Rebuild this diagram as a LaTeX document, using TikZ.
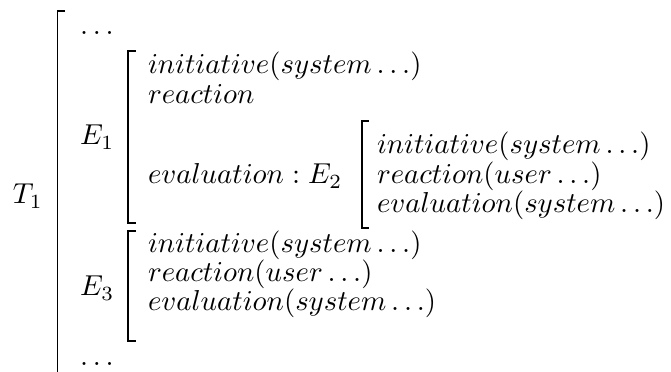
\documentclass[tikz,border=0pt]{standalone}
\begin{document}
\begin{tikzpicture}[x=0.33333pt,y=-0.33333pt,
  txt/.style={anchor=base west, inner sep=0pt, outer sep=0pt, scale=0.96},
  brk/.style={line width=0.6pt, line cap=butt, line join=miter}]
\useasboundingbox (0,0) rectangle (671,372);
% outer matrix T_1
\node[txt] (t1) at (13,204) {$T_1$};
\draw[brk] (65,11) -- (57.5,11) -- (57.5,385);
\node[txt] (dtop) at (80,35) {$\ldots$};
\node[txt] (dbot) at (80,366) {$\ldots$};
% E_1
\node[txt] (e1) at (80,145) {$E_1$};
\draw[brk] (136,51) -- (128,51) -- (128,223) -- (136,223);
\node[txt] (e1a) at (148,74) {$initiative(system\ldots)$};
\node[txt] (e1b) at (148,104) {$reaction$};
\node[txt] (e1c) at (148,184) {$evaluation : E_2$};
% E_2
\draw[brk] (369,121) -- (362,121) -- (362,228) -- (369,228);
\node[txt] (e2a) at (377,154) {$initiative(system\ldots)$};
\node[txt] (e2b) at (377,184) {$reaction(user\ldots)$};
\node[txt] (e2c) at (377,213) {$evaluation(system\ldots)$};
% E_3
\node[txt] (e3) at (80,296) {$E_3$};
\draw[brk] (136,231) -- (128,231) -- (128,341) -- (136,341);
\node[txt] (e3a) at (148,253) {$initiative(system\ldots)$};
\node[txt] (e3b) at (148,282) {$reaction(user\ldots)$};
\node[txt] (e3c) at (148,311) {$evaluation(system\ldots)$};
\end{tikzpicture}
\end{document}
